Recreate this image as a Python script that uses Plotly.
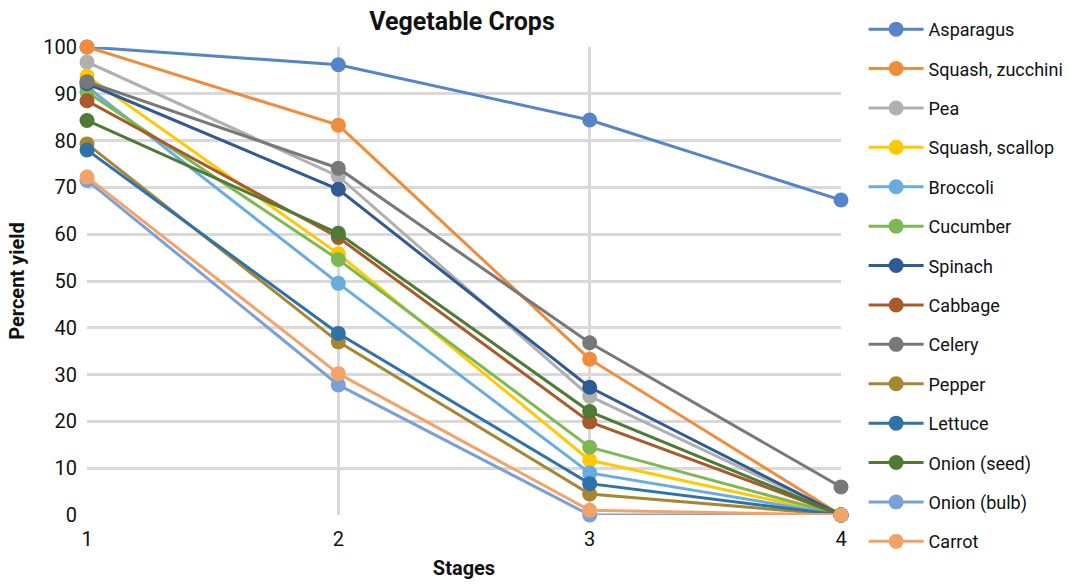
import plotly.graph_objects as go

stages = [1, 2, 3, 4]
names = ["Asparagus", "Squash, zucchini", "Pea", "Squash, scallop", "Broccoli", "Cucumber",
         "Spinach", "Cabbage", "Celery", "Pepper", "Lettuce", "Onion (seed)", "Onion (bulb)", "Carrot"]
asparagus = [100, 96.2, 84.4, 67.3]
squash_zucchini = [100, 83.3, 33.3, 0]
pea = [96.8, 72.4, 25.4, 0]
squash_scallop = [93.8, 55.8, 11.7, 0]
broccoli = [91.5, 49.5, 9.0, 0]
cucumber = [90.4, 54.6, 14.5, 0]
spinach = [92.2, 69.6, 27.3, 0]
cabbage = [88.5, 59.3, 19.9, 0]
celery = [92.6, 74.1, 36.8, 6.0]
pepper = [79.3, 37.0, 4.5, 0]
lettuce = [78.0, 38.8, 6.7, 0]
onion_seed = [84.3, 60.2, 22.1, 0]
onion_bulb = [71.5, 27.8, 0, 0]
carrot = [72.2, 30.2, 1.0, 0]
series = [asparagus, squash_zucchini, pea, squash_scallop, broccoli, cucumber, spinach,
          cabbage, celery, pepper, lettuce, onion_seed, onion_bulb, carrot]
colors = ["#5585C8", "#F08C3C", "#B0B0B0", "#FFC800", "#68ACE0", "#7DB855", "#2F5A93",
          "#A85A28", "#787878", "#A88530", "#2E72A8", "#4E7A35", "#7BA0D8", "#F2A468"]
yticks = list(range(0, 101, 10))

FONT = "Roboto, sans-serif"

fig = go.Figure()
for i, (n, v, c) in enumerate(zip(names, series, colors)):
    fig.add_trace(go.Scatter(x=stages, y=v, name=n, mode="lines+markers",
                             line=dict(color=c, width=3),
                             marker=dict(color=c, size=15),
                             cliponaxis=False, legendgroup=f"g{i}"))

fig.update_layout(
    width=1071, height=584,
    margin=dict(l=87, r=230, t=47, b=69, autoexpand=False),
    paper_bgcolor="white", plot_bgcolor="white",
    font=dict(family=FONT, size=18, color="#111111"),
    title=dict(text="<b>Vegetable Crops</b>", x=462 / 1071, xanchor="center",
               y=1 - 21 / 584, yanchor="middle", font=dict(size=25, family=FONT)),
    showlegend=True,
    legend=dict(x=1.030, xanchor="left", y=1.077, yanchor="top", tracegroupgap=13,
                itemwidth=55, font=dict(size=18, family=FONT), bgcolor="rgba(0,0,0,0)",
                maxheight=1),
    xaxis=dict(range=[1, 4], tickvals=stages, ticktext=[str(s) for s in stages],
               showgrid=True, gridcolor="#D9D9D9", gridwidth=2.5, zeroline=False,
               showline=False, ticks="", tickfont=dict(size=20), automargin=False,
               ticklabelstandoff=10,
               title=dict(text="<b>Stages</b>", font=dict(size=20), standoff=10)),
    yaxis=dict(range=[0, 100], tickvals=yticks, showgrid=True, gridcolor="#D9D9D9",
               gridwidth=2.5, zeroline=False, showline=False, ticks="", automargin=False,
               tickfont=dict(size=20), ticklabelstandoff=9,
               title=dict(text="<b>Percent yield</b>", font=dict(size=20), standoff=13)),
)
fig.write_html("out.html", post_script="document.body.style.margin='0';",
               config={"displayModeBar": False})
